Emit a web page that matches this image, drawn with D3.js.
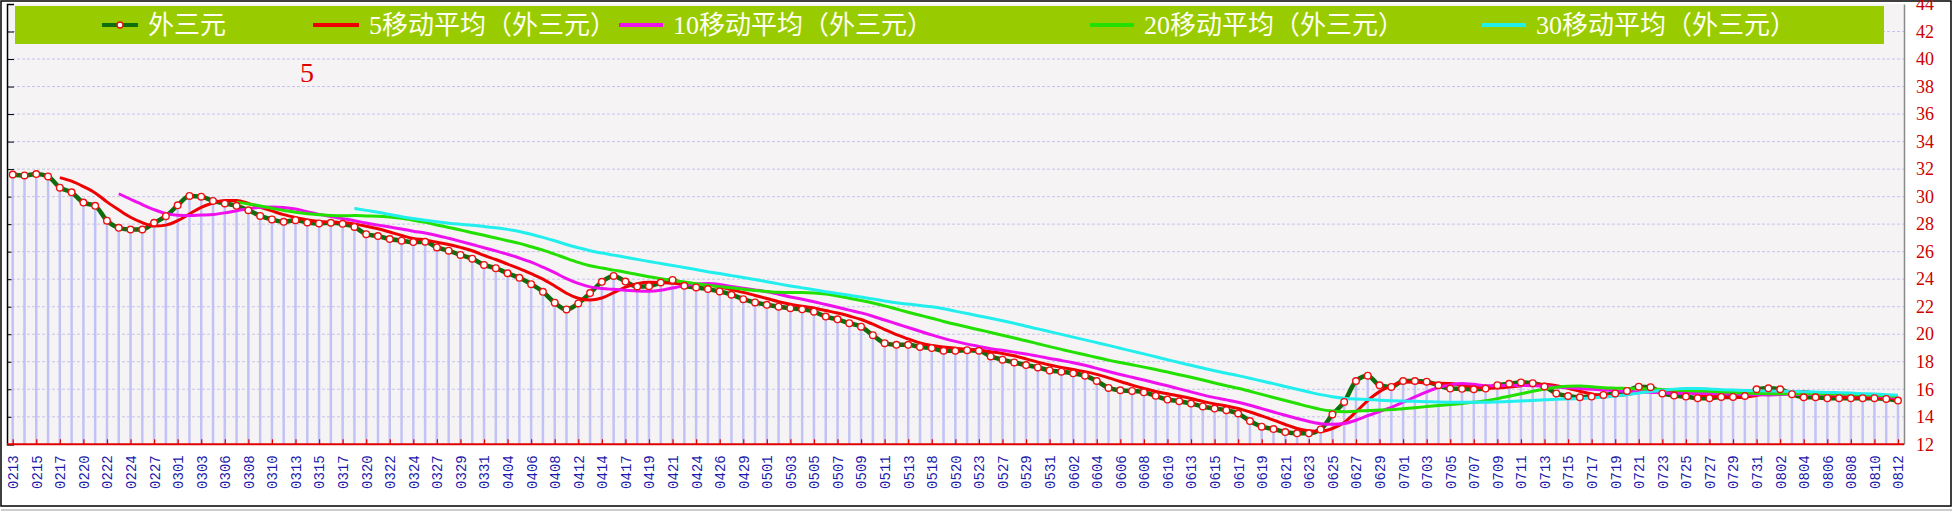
<!DOCTYPE html>
<html><head><meta charset="utf-8">
<script src="https://cdn.jsdelivr.net/npm/d3@7/dist/d3.min.js"></script>
<style>html,body{margin:0;padding:0;background:#fff;overflow:hidden}svg{display:block}</style>
</head><body>
<svg id="c" width="1954" height="513"></svg>
<script>
const dates = ["0213","0214","0215","0216","0217","0218","0220","0221","0222","0223",
"0224","0225","0227","0228","0301","0302","0303","0304","0306","0307",
"0308","0309","0310","0311","0313","0314","0315","0316","0317","0318",
"0320","0321","0322","0323","0324","0325","0327","0328","0329","0330",
"0331","0401","0404","0405","0406","0407","0408","0410","0412","0413",
"0414","0415","0417","0418","0419","0420","0421","0422","0424","0425",
"0426","0427","0429","0430","0501","0502","0503","0504","0505","0506",
"0507","0508","0509","0510","0511","0512","0513","0515","0518","0519",
"0520","0522","0523","0525","0527","0528","0529","0530","0531","0601",
"0602","0603","0604","0605","0606","0607","0608","0609","0610","0612",
"0613","0614","0615","0616","0617","0618","0619","0620","0621","0622",
"0623","0624","0625","0626","0627","0628","0629","0630","0701","0702",
"0703","0704","0705","0706","0707","0708","0709","0710","0711","0712",
"0713","0714","0715","0716","0717","0718","0719","0720","0721","0722",
"0723","0724","0725","0726","0727","0728","0729","0730","0731","0801",
"0802","0803","0804","0805","0806","0807","0808","0809","0810","0811","0812"];

const tickLabels = ["0213","0215","0217","0220","0222","0224","0227","0301","0303","0306","0308","0310","0313","0315","0317","0320","0322","0324","0327","0329","0331","0404","0406","0408","0412","0414","0417","0419","0421","0424","0426","0429","0501","0503","0505","0507","0509","0511","0513","0518","0520","0523","0527","0529","0531","0602","0604","0606","0608","0610","0613","0615","0617","0619","0621","0623","0625","0627","0629","0701","0703","0705","0707","0709","0711","0713","0715","0717","0719","0721","0723","0725","0727","0729","0731","0802","0804","0806","0808","0810","0812"];

// 外三元
const values = [31.61,31.54,31.64,31.47,30.65,30.31,29.57,29.33,28.25,27.73,
27.61,27.61,28.1,28.58,29.37,30.05,30.0,29.69,29.5,29.33,
29.01,28.6,28.34,28.17,28.29,28.12,28.05,28.1,28.02,27.8,
27.27,27.13,26.92,26.8,26.7,26.72,26.31,26.07,25.76,25.49,
25.04,24.8,24.43,24.1,23.64,23.08,22.29,21.8,22.24,22.99,
23.81,24.24,23.83,23.47,23.49,23.76,23.95,23.52,23.4,23.28,
23.11,22.87,22.55,22.31,22.14,22.0,21.89,21.81,21.64,21.28,
21.08,20.8,20.55,19.93,19.35,19.23,19.23,19.08,18.99,18.8,
18.8,18.84,18.8,18.39,18.15,17.95,17.76,17.59,17.37,17.28,
17.16,16.99,16.6,16.1,15.93,15.88,15.78,15.52,15.25,15.13,
14.96,14.75,14.6,14.48,14.24,13.69,13.28,13.11,12.89,12.8,
12.8,13.08,14.17,15.08,16.6,16.99,16.29,16.17,16.6,16.6,
16.55,16.29,16.05,16.03,16.0,16.05,16.3,16.4,16.5,16.44,
16.2,15.7,15.51,15.42,15.47,15.59,15.7,15.88,16.19,16.15,
15.7,15.54,15.47,15.35,15.35,15.44,15.44,15.51,16.0,16.07,
16.0,15.64,15.42,15.42,15.35,15.35,15.35,15.35,15.35,15.3,
15.18];

// 5移动平均 (from the 5th date on)
const ma5 = [31.38,31.12,30.73,30.27,29.62,29.04,28.50,28.11,27.86,27.93,28.25,28.74,29.22,29.54,29.72,29.71,29.51,29.23,28.96,28.69,28.48,28.30,28.19,28.15,28.12,28.02,27.85,27.66,27.43,27.18,26.96,26.85,26.69,26.52,26.31,26.07,25.73,25.43,25.10,24.77,
24.40,24.01,23.51,22.98,22.61,22.48,22.63,23.02,23.42,23.67,23.77,23.76,23.70,23.64,23.62,23.58,23.45,23.24,23.04,22.82,22.60,22.37,22.18,22.03,21.90,21.72,21.54,21.32,21.07,20.73,20.34,19.97,19.66,19.36,19.18,19.07,18.98,18.90,18.85,18.73,
18.60,18.43,18.21,17.97,17.76,17.59,17.43,17.28,17.08,16.83,16.56,16.30,16.06,15.84,15.67,15.51,15.33,15.12,14.94,14.78,14.61,14.35,14.06,13.76,13.44,13.15,12.98,12.94,13.15,13.59,14.35,15.18,15.83,16.23,16.53,16.53,16.44,16.44,16.42,16.30,
16.18,16.08,16.09,16.16,16.25,16.34,16.37,16.25,16.07,15.85,15.66,15.54,15.54,15.61,15.77,15.90,15.92,15.89,15.81,15.64,15.48,15.43,15.41,15.42,15.55,15.69,15.80,15.84,15.83,15.71,15.57,15.44,15.38,15.36,15.35,15.34,15.31];

// 10移动平均 (from the 10th date on)
const ma10 = [30.21,29.81,29.42,29.06,28.77,28.65,28.62,28.66,28.70,28.82,28.98,29.12,29.22,29.25,29.21,29.10,28.91,28.71,28.55,28.40,28.25,28.08,27.93,27.79,27.65,27.49,27.35,27.18,26.97,26.75,26.52,26.29,26.06,25.81,25.54,25.24,24.87,24.47,24.04,23.69,
23.44,23.32,23.26,23.20,23.14,23.12,23.19,23.36,23.53,23.65,23.68,23.61,23.47,23.34,23.22,23.09,22.91,22.71,22.54,22.36,22.16,21.96,21.75,21.55,21.31,21.03,20.76,20.49,20.22,19.95,19.70,19.48,19.28,19.11,18.95,18.83,18.70,18.56,18.41,18.24,
18.09,17.93,17.74,17.52,17.29,17.07,16.87,16.67,16.46,16.25,16.03,15.81,15.59,15.39,15.23,15.06,14.84,14.59,14.35,14.11,13.88,13.66,13.50,13.45,13.51,13.75,14.08,14.38,14.69,15.06,15.44,15.81,16.13,16.32,16.42,16.36,16.26,16.26,16.29,16.28,
16.26,16.23,16.17,16.11,16.05,16.00,15.95,15.89,15.84,15.81,15.78,15.73,15.71,15.71,15.70,15.69,15.68,15.65,15.61,15.60,15.59,15.62,15.63,15.62,15.63,15.63,15.62,15.61,15.60,15.53,15.45,15.37];

// 20移动平均 (from the 20th date on)
const ma20 = [29.60,29.47,29.32,29.16,28.99,28.87,28.76,28.69,28.63,28.61,28.62,28.60,28.58,28.52,28.43,28.29,28.13,27.94,27.76,27.58,27.38,27.19,26.99,26.80,26.60,26.36,26.11,25.82,25.51,25.22,24.98,24.81,24.66,24.51,24.34,24.18,24.03,23.91,23.79,23.67,
23.56,23.46,23.37,23.27,23.18,23.11,23.05,23.03,23.03,23.00,22.92,22.78,22.61,22.45,22.27,22.06,21.83,21.60,21.38,21.16,20.93,20.72,20.52,20.33,20.13,19.93,19.73,19.52,19.31,19.10,18.90,18.70,18.51,18.31,18.12,17.95,17.78,17.61,17.43,17.25,
17.06,16.87,16.67,16.46,16.26,16.07,15.85,15.63,15.40,15.18,14.96,14.74,14.54,14.42,14.37,14.40,14.46,14.49,14.52,14.59,14.66,14.74,14.82,14.89,14.97,15.05,15.17,15.32,15.49,15.67,15.85,16.02,16.15,16.22,16.23,16.18,16.11,16.08,16.06,16.04,
16.02,15.98,15.94,15.91,15.88,15.85,15.82,15.77,15.73,15.70,15.68,15.67,15.67,15.67,15.67,15.66,15.65,15.63,15.60,15.56,15.52,15.49];

// 30移动平均 (from the 30th date on)
const ma30 = [29.15,29.00,28.86,28.70,28.54,28.41,28.29,28.18,28.07,27.99,27.92,27.83,27.74,27.62,27.47,27.27,27.04,26.79,26.52,26.28,26.07,25.90,25.75,25.60,25.44,25.28,25.14,25.00,24.85,24.70,24.54,24.41,24.26,24.12,23.97,23.82,23.66,23.51,23.37,23.23,
23.09,22.96,22.83,22.70,22.56,22.42,22.29,22.19,22.09,21.99,21.85,21.68,21.50,21.33,21.16,20.98,20.79,20.58,20.39,20.19,19.99,19.79,19.59,19.39,19.19,18.98,18.77,18.57,18.36,18.15,17.94,17.74,17.54,17.34,17.16,16.99,16.80,16.60,16.41,16.20,
16.00,15.80,15.61,15.46,15.35,15.29,15.26,15.21,15.17,15.14,15.12,15.10,15.07,15.06,15.05,15.06,15.06,15.08,15.11,15.15,15.19,15.23,15.27,15.30,15.33,15.37,15.43,15.51,15.60,15.72,15.83,15.92,16.01,16.05,16.06,16.02,15.96,15.94,15.91,15.89,
15.88,15.86,15.84,15.82,15.80,15.77,15.75,15.72,15.68,15.65,15.61,15.57];

const seriesNames = ["外三元","5移动平均（外三元）","10移动平均（外三元）","20移动平均（外三元）","30移动平均（外三元）"];
const maPeriods = [5,10,20,30];
const maSeries = [ma5, ma10, ma20, ma30];
const yTicks = [12,14,16,18,20,22,24,26,28,30,32,34,36,38,40,42,44];
const noteText = "5";

const svg = d3.select("#c");
const L=7, R=1904, T=4, B=444.3;
const x = d3.scalePoint().domain(dates).range([12.7,1898]);
const y = d3.scaleLinear().domain([12,44]).range([B,T]);

// frame
svg.append("rect").attr("x",1).attr("y",1).attr("width",1950).attr("height",505).attr("fill","#fff").attr("stroke","#000").attr("stroke-width",1.5);
svg.append("line").attr("x1",1).attr("x2",1952).attr("y1",510).attr("y2",510).attr("stroke","#999");
svg.append("rect").attr("x",L).attr("y",T).attr("width",R-L).attr("height",B-T).attr("fill","#F5F3F3");

// grid
svg.append("g").selectAll("line").data(yTicks.filter(t=>t>12&&t<44)).join("line")
  .attr("x1",L).attr("x2",R).attr("y1",d=>y(d)).attr("y2",d=>y(d))
  .attr("stroke","#C6C4EE").attr("stroke-width",1).attr("stroke-dasharray","3,2");

// left axis (black, ticks inward)
const gl = svg.append("g").attr("transform",`translate(${L},0)`).call(d3.axisRight(y).tickValues(yTicks).tickSize(7).tickFormat(""));
gl.select(".domain").attr("stroke","#000").attr("stroke-width",1.5);
gl.selectAll(".tick line").attr("stroke","#000");

// right axis
const gr = svg.append("g").attr("transform",`translate(${R},0)`).call(d3.axisRight(y).tickValues(yTicks).tickSize(0).tickPadding(12));
gr.select(".domain").attr("stroke","#8a8a8a").attr("stroke-width",1.5);
gr.selectAll("text").attr("fill","#CC0000").attr("font-family","'Liberation Serif',serif").attr("font-size",18);

// bars
svg.append("g").selectAll("line").data(values).join("line")
  .attr("x1",(d,i)=>x(dates[i])).attr("x2",(d,i)=>x(dates[i]))
  .attr("y1",d=>y(d)).attr("y2",B)
  .attr("stroke","#C2C2F6").attr("stroke-width",2.5);

// data line
const line = d3.line().x(d=>x(d[0])).y(d=>y(d[1])).curve(d3.curveMonotoneX);
svg.append("path").datum(dates.map((d,i)=>[d,values[i]])).attr("d",line)
  .attr("fill","none").attr("stroke","#0E6E0E").attr("stroke-width",4.5);

const maColors = ["#EE0000","#EE11EE","#22E000","#22EEEE"];
maSeries.forEach((s,k)=>{
  const off = maPeriods[k]-1;
  svg.append("path").datum(s.map((v,j)=>[dates[j+off],v])).attr("d",line)
    .attr("fill","none").attr("stroke",maColors[k]).attr("stroke-width",3);
});

svg.append("g").selectAll("circle").data(values).join("circle")
  .attr("cx",(d,i)=>x(dates[i])).attr("cy",d=>y(d)).attr("r",3.3)
  .attr("fill","#fff").attr("stroke","#EE1111").attr("stroke-width",1.4);

// bottom axis
const gb = svg.append("g").attr("transform",`translate(0,${B})`).call(d3.axisBottom(x).tickValues(tickLabels).tickSize(-5).tickPadding(12));
gb.select(".domain").attr("d",`M${L},0H${R}`).attr("stroke","#E00000").attr("stroke-width",2);
gb.selectAll(".tick line").attr("stroke","#E00000").attr("stroke-width",1.2);
gb.selectAll("text").attr("fill","#1A1AAA").attr("font-family","'Liberation Mono',monospace").attr("font-size",14)
  .attr("transform","rotate(-90)").attr("text-anchor","end").attr("dy","0.35em").attr("x",-11).attr("y",0);

// legend
svg.append("rect").attr("x",15).attr("y",6).attr("width",1869).attr("height",38).attr("fill","#99CC00");
const legPos = [[102,138,148],[313,359,369],[619,663,673],[1090,1134,1144],[1482,1526,1536]];
const legColors = ["#0E6E0E"].concat(maColors);
const lg = svg.append("g").selectAll("g").data(seriesNames).join("g");
lg.append("line").attr("x1",(d,i)=>legPos[i][0]).attr("x2",(d,i)=>legPos[i][1]).attr("y1",25).attr("y2",25)
  .attr("stroke",(d,i)=>legColors[i]).attr("stroke-width",4);
lg.filter((d,i)=>i===0).append("circle").attr("cx",120).attr("cy",25).attr("r",3).attr("fill","#fff").attr("stroke","#E01010").attr("stroke-width",1.4);
lg.append("text").attr("x",(d,i)=>legPos[i][2]).attr("y",25).attr("dy","0.36em").text(d=>d)
  .attr("fill","#FFFFF4").attr("font-size",26).attr("font-family","'Liberation Serif','Noto Sans CJK SC',sans-serif");

svg.append("text").attr("x",300).attr("y",82).text(noteText).attr("fill","#DD0000").attr("font-size",28).attr("font-family","'Liberation Serif',serif");
</script>
</body></html>
